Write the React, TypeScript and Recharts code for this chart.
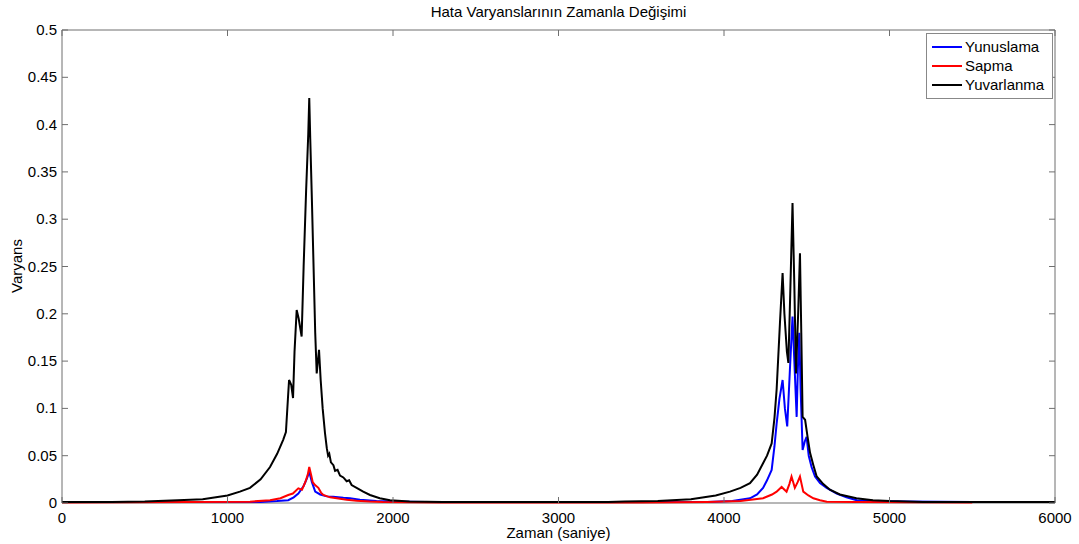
import { LineChart, Line, XAxis, YAxis, ReferenceArea, Label } from 'recharts'

const W = 1079
const H = 544
const PLOT = { left: 62, right: 1055, top: 30, bottom: 503 }
const FONT = '"Liberation Sans", Arial, sans-serif'
const FRAME = '#6f6f6f'
const FS = 15

const xTicks = [0, 1000, 2000, 3000, 4000, 5000, 6000]
const yTicks = [0, 0.05, 0.1, 0.15, 0.2, 0.25, 0.3, 0.35, 0.4, 0.45, 0.5]

// Yunuslama (pitch)
const yunuslamaT = [
  0, 1200, 1300, 1367, 1400, 1428, 1460, 1480, 1494, 1510, 1530, 1560, 1600, 1638, 1700, 1740,
  1800, 1900, 2000, 2200, 3000, 3900, 4050, 4157, 4200, 4236, 4260, 4288, 4305, 4318, 4335, 4354,
  4368, 4382, 4398, 4414, 4425, 4439, 4446, 4455, 4463, 4475, 4488, 4499, 4512, 4529, 4550, 4580,
  4620, 4681, 4740, 4802, 4900, 5100, 5500, 5700,
]
const yunuslamaV = [
  0.001, 0.001, 0.002, 0.003, 0.006, 0.01, 0.018, 0.026, 0.033, 0.022, 0.012, 0.009, 0.007, 0.0067, 0.0055, 0.005,
  0.0035, 0.002, 0.0015, 0.001, 0.001, 0.001, 0.002, 0.005, 0.009, 0.016, 0.024, 0.035, 0.06, 0.084, 0.11, 0.13,
  0.1, 0.081, 0.14, 0.197, 0.15, 0.091, 0.14, 0.18, 0.12, 0.056, 0.065, 0.07, 0.05, 0.038, 0.028, 0.021,
  0.016, 0.01, 0.006, 0.003, 0.002, 0.0015, 0.001, 0.001,
]

// Sapma (yaw)
const sapmaT = [
  0, 1136, 1257, 1320, 1367, 1395, 1428, 1450, 1470, 1485, 1494, 1505, 1515, 1529, 1549, 1565,
  1579, 1620, 1660, 1720, 1780, 1860, 1940, 2300, 3500, 3900, 4100, 4236, 4290, 4318, 4348, 4378,
  4395, 4408, 4428, 4445, 4459, 4479, 4510, 4540, 4580, 4621, 4800, 5500,
]
const sapmaV = [
  0.0005, 0.0014, 0.003, 0.005, 0.0085, 0.01, 0.0155, 0.014, 0.022, 0.03, 0.038, 0.03, 0.022, 0.019, 0.016, 0.011,
  0.0085, 0.006, 0.005, 0.0035, 0.0025, 0.0015, 0.001, 0.0005, 0.0005, 0.001, 0.002, 0.005, 0.009, 0.012, 0.017, 0.012,
  0.02, 0.028, 0.016, 0.022, 0.028, 0.012, 0.008, 0.005, 0.003, 0.0014, 0.001, 0.0005,
]

// Yuvarlanma (roll)
const yuvarlanmaT = [
  0, 300, 500, 700, 850, 1000, 1075, 1136, 1200, 1257, 1300, 1337, 1353, 1365, 1372, 1385,
  1396, 1405, 1418, 1430, 1448, 1460, 1475, 1488, 1494, 1500, 1510, 1520, 1530, 1539, 1553, 1563,
  1575, 1589, 1600, 1608, 1615, 1625, 1640, 1650, 1665, 1680, 1700, 1720, 1735, 1750, 1780, 1820,
  1861, 1920, 1982, 2100, 2300, 3300, 3400, 3600, 3800, 3950, 4036, 4100, 4157, 4200, 4236, 4260,
  4288, 4305, 4318, 4338, 4354, 4365, 4380, 4389, 4400, 4414, 4425, 4435, 4448, 4459, 4467, 4475,
  4490, 4505, 4520, 4540, 4560, 4600, 4640, 4700, 4800, 4900, 5000, 5200, 6000,
]
const yuvarlanmaV = [
  0.001, 0.001, 0.0015, 0.003, 0.004, 0.008, 0.012, 0.016, 0.025, 0.038, 0.052, 0.067, 0.075, 0.11, 0.13, 0.125,
  0.111, 0.16, 0.204, 0.195, 0.176, 0.25, 0.33, 0.39, 0.428, 0.385, 0.32, 0.25, 0.18, 0.137, 0.162, 0.13,
  0.1, 0.074, 0.058, 0.05, 0.052, 0.043, 0.04, 0.034, 0.035, 0.029, 0.027, 0.023, 0.024, 0.019, 0.016, 0.012,
  0.0085, 0.005, 0.003, 0.0015, 0.001, 0.001, 0.0015, 0.002, 0.004, 0.008, 0.012, 0.016, 0.021, 0.03, 0.042, 0.05,
  0.063, 0.09, 0.12, 0.19, 0.243, 0.2, 0.16, 0.148, 0.22, 0.317, 0.23, 0.137, 0.2, 0.264, 0.18, 0.091,
  0.088, 0.07, 0.053, 0.04, 0.028, 0.02, 0.014, 0.009, 0.005, 0.003, 0.002, 0.001, 0.001,
]

const series = [
  { name: 'Yunuslama', color: '#0000ff', t: yunuslamaT, v: yunuslamaV },
  { name: 'Sapma', color: '#ff0000', t: sapmaT, v: sapmaV },
  { name: 'Yuvarlanma', color: '#000000', t: yuvarlanmaT, v: yuvarlanmaV },
]

const toPoints = (t: number[], v: number[]) => t.map((x, i) => ({ t: x, v: v[i] }))

const fmtY = (v: number) => String(Number(v.toFixed(2)))

// MATLAB-style ticks: pointing inward, mirrored on the opposite side
const YTick = (props: any) => {
  const { y, payload } = props
  return (
    <g>
      <line x1={PLOT.left} x2={PLOT.left + 6} y1={y} y2={y} stroke={FRAME} />
      <line x1={PLOT.right - 6} x2={PLOT.right} y1={y} y2={y} stroke={FRAME} />
      <text x={PLOT.left - 5} y={y} dy={5} textAnchor="end" fontSize={FS} fontFamily={FONT} fill="#000">
        {fmtY(payload.value)}
      </text>
    </g>
  )
}

const XTick = (props: any) => {
  const { x, payload } = props
  return (
    <g>
      <line x1={x} x2={x} y1={PLOT.bottom} y2={PLOT.bottom - 6} stroke={FRAME} />
      <line x1={x} x2={x} y1={PLOT.top} y2={PLOT.top + 6} stroke={FRAME} />
      <text x={x} y={PLOT.bottom + 20} textAnchor="middle" fontSize={FS} fontFamily={FONT} fill="#000">
        {payload.value}
      </text>
    </g>
  )
}

const LegendBox = () => (
  <div
    style={{
      position: 'absolute',
      left: 926,
      top: 33,
      width: 127,
      boxSizing: 'border-box',
      border: '1px solid #888',
      background: '#fff',
      padding: '3px 4px 4px 5px',
      fontFamily: FONT,
      fontSize: FS,
      lineHeight: '19px',
    }}
  >
    {series.map(s => (
      <div key={s.name} style={{ display: 'flex', alignItems: 'center', whiteSpace: 'nowrap' }}>
        <span style={{ display: 'inline-block', width: 30, height: 2, background: s.color, marginRight: 3 }} />
        <span>{s.name}</span>
      </div>
    ))}
  </div>
)

export default function App() {
  return (
    <div style={{ position: 'absolute', left: 0, top: 0, width: W, height: H, background: '#fff' }}>
      <div
        style={{
          position: 'absolute',
          left: PLOT.left,
          width: PLOT.right - PLOT.left,
          top: 3,
          textAlign: 'center',
          fontFamily: FONT,
          fontSize: FS,
        }}
      >
        Hata Varyanslarının Zamanla Değişimi
      </div>
      <LineChart width={W} height={H} margin={{ top: PLOT.top, right: W - PLOT.right, left: 0, bottom: 0 }}>
        <XAxis
          type="number"
          dataKey="t"
          domain={[0, 6000]}
          ticks={xTicks}
          tick={<XTick />}
          tickLine={false}
          axisLine={false}
          height={H - PLOT.bottom}
          interval={0}
        >
          <Label
            content={() => (
              <text x={(PLOT.left + PLOT.right) / 2} y={538} textAnchor="middle" fontSize={FS} fontFamily={FONT} fill="#000">
                Zaman (saniye)
              </text>
            )}
          />
        </XAxis>
        <YAxis
          type="number"
          domain={[0, 0.5]}
          ticks={yTicks}
          tick={<YTick />}
          tickLine={false}
          axisLine={false}
          width={PLOT.left}
          interval={0}
        >
          <Label
            content={() => (
              <text
                x={22}
                y={266}
                transform="rotate(-90 22 266)"
                textAnchor="middle"
                fontSize={FS}
                fontFamily={FONT}
                fill="#000"
              >
                Varyans
              </text>
            )}
          />
        </YAxis>
        <ReferenceArea x1={0} x2={6000} y1={0} y2={0.5} fill="none" fillOpacity={0} stroke={FRAME} strokeOpacity={1} />
        {series.map(s => (
          <Line
            key={s.name}
            data={toPoints(s.t, s.v)}
            dataKey="v"
            name={s.name}
            type="linear"
            stroke={s.color}
            strokeWidth={2}
            dot={false}
            activeDot={false}
            isAnimationActive={false}
          />
        ))}
      </LineChart>
      <LegendBox />
    </div>
  )
}
